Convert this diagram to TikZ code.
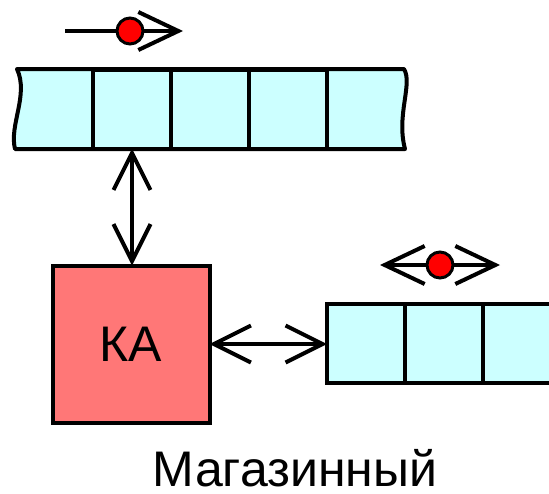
\documentclass[tikz,border=0pt]{standalone}
\usepackage{fontspec}
\setmainfont{Liberation Sans}
\usetikzlibrary{arrows.meta, positioning}

\definecolor{tapecol}{RGB}{204,255,255}
\definecolor{kacol}{RGB}{255,119,119}

\tikzset{
  cell/.style={draw, fill=tapecol, minimum width=78pt, minimum height=79pt, outer sep=0pt},
  automat/.style={draw, fill=kacol, minimum size=157pt, outer sep=0pt, font=\fontsize{50}{50}\selectfont},
  head/.style={draw, fill=red, circle, minimum size=26pt, inner sep=0pt, line width=3pt},
  barb/.tip={Straight Barb[length=37pt, width=37pt]},
  move/.tip={Straight Barb[length=40pt, width=38pt]}
}

\begin{document}
\begin{tikzpicture}[x=1pt, y=-1pt, line width=4pt]
  \useasboundingbox (0,0) rectangle (549,493);
  \clip (0,0) rectangle (549,493);

  % input tape, both ends torn
  \draw[fill=tapecol, line join=round]
    (17,69) -- (404,69) .. controls (413,84) and (396,115) .. (405,149)
    -- (15,149) .. controls (9,125) and (29,95) .. (17,69) -- cycle;
  \node[cell] (c2) at (132,109) {};
  \node[cell, right=0pt of c2] (c3) {};
  \node[cell, right=0pt of c3] (c4) {};

  % read head moves one way
  \coordinate (in0) at (65,31);
  \coordinate (in1) at (183,31);
  \draw[-move] (in0) -- (in1);
  \node[head] (h1) at (130,31) {};

  % control unit
  \node[automat] (ka) at (131,344) {КА};

  % stack tape
  \node[cell] (r1) at (366,343) {};
  \node[cell, right=0pt of r1] (r2) {};
  \node[cell, right=0pt of r2] (r3) {};

  % stack head moves both ways
  \coordinate (st0) at (380,265);
  \coordinate (st1) at (500,265);
  \draw[move-move] (st0) -- (st1);
  \node[head] (h2) at (440,265) {};

  \draw[barb-barb] (c2.south) -- (ka.north -| c2.south);
  \draw[barb-barb] (ka.east) -- (ka.east -| r1.west);

  \node[font=\fontsize{50}{50}\selectfont, anchor=base, inner sep=0pt] (name) at (295,486) {Магазинный};
\end{tikzpicture}
\end{document}
